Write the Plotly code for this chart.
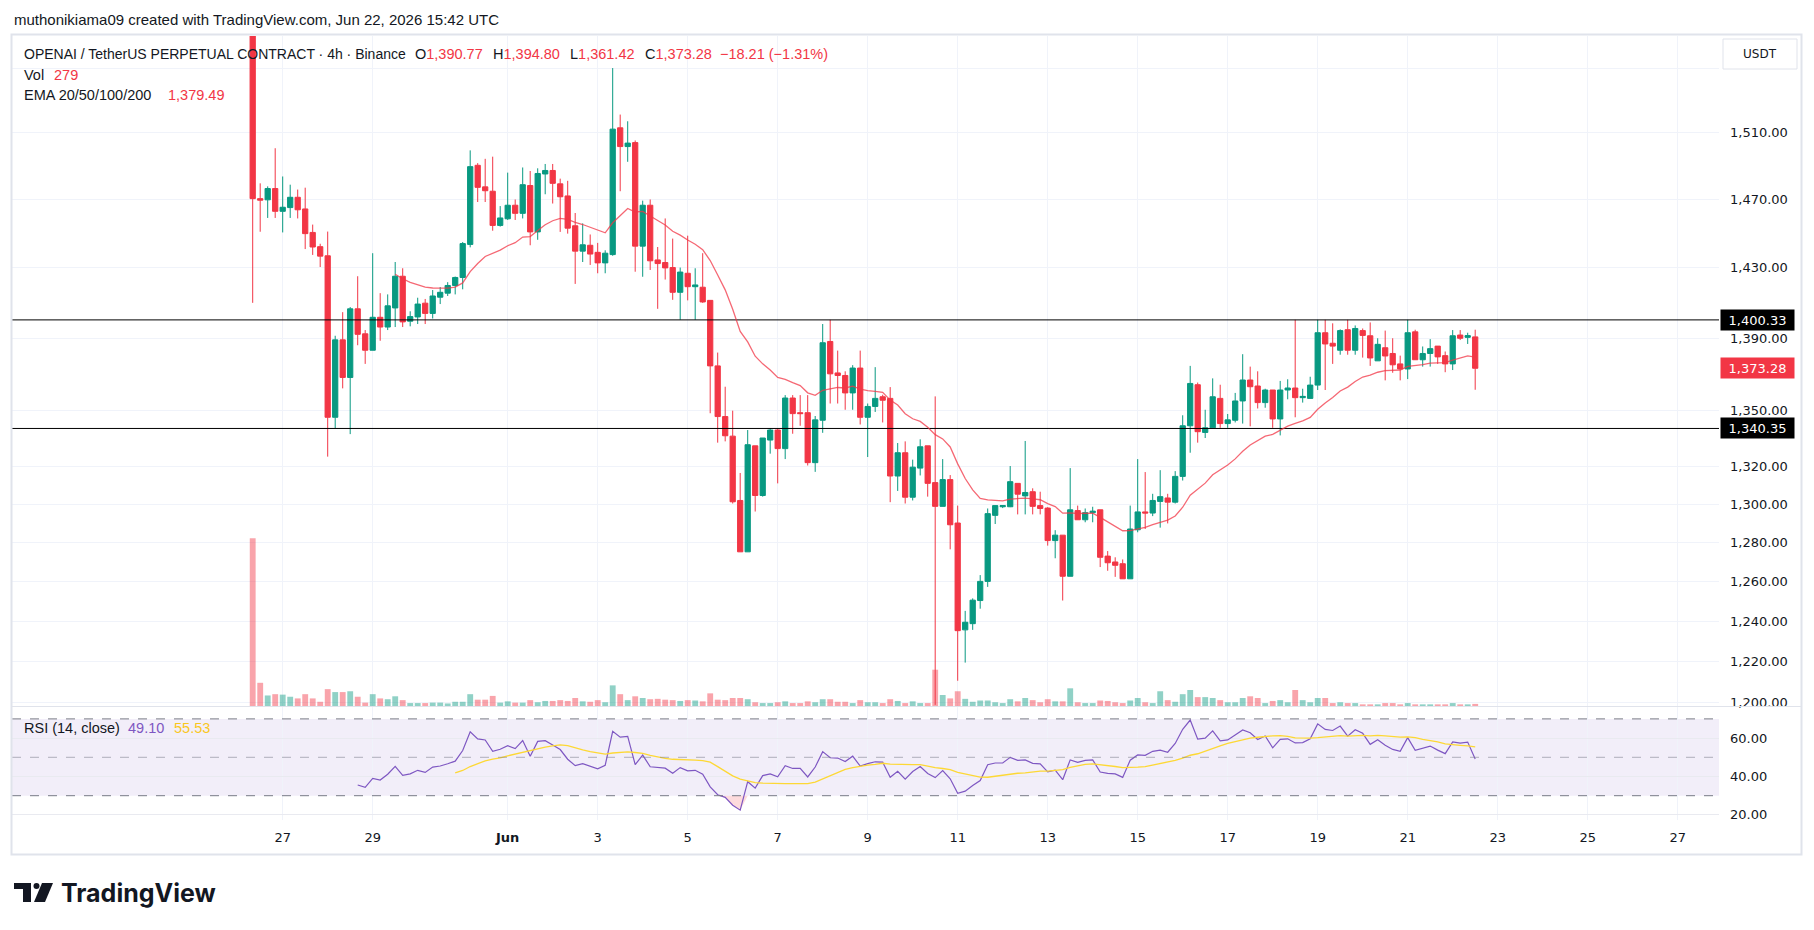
import math
import numpy as np
import pandas as pd
import plotly.graph_objects as go

# ---------------- data (4h candles, OPENAI/USDT perp) ----------------
start_time = "2026-05-26 08:00"
opens = [1580, 1470.5, 1469.8, 1476.5, 1463.0, 1465.2, 1471.3, 1464.4, 1450.6, 1442.3,
         1437.0, 1346.4, 1389.1, 1368.2, 1406.6, 1392.5, 1383.3, 1401.8, 1396.3, 1407.1,
         1425.2, 1399.6, 1402.0, 1409.8, 1404.0, 1413.2, 1415.5, 1419.9, 1424.5, 1443.6,
         1490.4, 1477.5, 1474.9, 1454.7, 1458.6, 1466.6, 1461.8, 1478.3, 1450.9, 1485.2,
         1487.3, 1479.3, 1472.1, 1454.5, 1439.7, 1443.1, 1439.0, 1432.9, 1437.7, 1513.1,
         1501.7, 1504.1, 1442.6, 1466.6, 1434.6, 1433.1, 1430.2, 1416.0, 1426.9, 1419.2,
         1418.9, 1411.4, 1374.6, 1346.8, 1336.2, 1302.0, 1275.3, 1331.0, 1304.6, 1334.1,
         1339.5, 1329.5, 1356.9, 1348.9, 1348.9, 1322.0, 1344.8, 1388.2, 1370.7, 1369.3,
         1359.7, 1373.4, 1346.4, 1352.3, 1357.6, 1356.7, 1314.9, 1327.3, 1303.7, 1319.1,
         1331.0, 1311.4, 1298.9, 1313.0, 1290.2, 1235.8, 1238.9, 1250.5, 1260.2, 1294.2,
         1298.7, 1298.7, 1311.0, 1304.4, 1306.6, 1299.3, 1298.0, 1281.1, 1283.9, 1262.8,
         1296.7, 1291.9, 1295.6, 1297.1, 1273.1, 1270.1, 1269.2, 1261.5, 1286.7, 1296.0,
         1295.4, 1301.5, 1303.3, 1301.1, 1314.7, 1341.8, 1364.2, 1338.2, 1340.7, 1356.7,
         1343.0, 1344.8, 1355.3, 1366.8, 1363.5, 1354.4, 1361.3, 1345.5, 1361.3, 1362.4,
         1357.1, 1356.7, 1364.0, 1393.1, 1387.2, 1383.3, 1394.8, 1383.3, 1394.3, 1391.4,
         1377.4, 1384.7, 1381.5, 1375.7, 1372.9, 1393.6, 1378.0, 1381.5, 1385.6, 1380.3,
         1375.7, 1391.8, 1390.5, 1390.77]
highs = [1600, 1479.6, 1477.8, 1500.7, 1483.7, 1478.8, 1475.9, 1477.0, 1455.2, 1444.0,
         1451.1, 1391.4, 1404.7, 1407.6, 1425.2, 1394.6, 1438.5, 1415.5, 1414.8, 1433.4,
         1429.8, 1405.2, 1412.9, 1412.2, 1417.3, 1419.0, 1421.8, 1425.0, 1445.0, 1499.4,
         1491.7, 1494.3, 1495.6, 1466.1, 1486.0, 1470.0, 1489.1, 1487.0, 1488.6, 1491.2,
         1491.2, 1482.4, 1481.1, 1462.0, 1455.9, 1449.4, 1444.5, 1440.2, 1550.0, 1521.2,
         1517.1, 1505.4, 1469.3, 1470.0, 1442.1, 1458.8, 1447.0, 1430.2, 1448.7, 1429.8,
         1438.5, 1411.4, 1382.0, 1363.1, 1350.0, 1316.5, 1339.5, 1331.0, 1335.2, 1340.6,
         1340.4, 1358.5, 1358.5, 1358.5, 1358.5, 1347.1, 1398.0, 1400.4, 1383.1, 1371.6,
         1375.0, 1383.1, 1353.9, 1373.9, 1358.7, 1362.9, 1332.5, 1333.4, 1323.6, 1334.5,
         1331.0, 1357.8, 1323.9, 1315.4, 1299.3, 1245.3, 1251.6, 1263.4, 1297.8, 1299.3,
         1299.5, 1320.2, 1311.0, 1333.6, 1308.4, 1306.6, 1298.5, 1286.5, 1283.9, 1319.1,
         1299.3, 1297.8, 1298.7, 1297.1, 1275.7, 1272.5, 1271.4, 1299.3, 1323.9, 1317.0,
         1305.5, 1318.0, 1305.5, 1317.5, 1347.5, 1374.6, 1365.4, 1350.5, 1367.7, 1364.2,
         1348.2, 1359.7, 1381.1, 1374.2, 1371.6, 1362.0, 1361.3, 1366.3, 1367.2, 1400.4,
         1362.0, 1368.6, 1400.4, 1400.4, 1398.4, 1395.0, 1400.4, 1397.2, 1395.5, 1398.9,
         1390.0, 1394.3, 1390.0, 1380.3, 1400.4, 1394.8, 1385.4, 1389.5, 1385.6, 1382.6,
         1394.6, 1394.6, 1393.1, 1394.80]
lows = [1410.0, 1451.0, 1459.1, 1459.1, 1450.6, 1459.1, 1458.8, 1440.9, 1437.5, 1430.5,
        1325.2, 1340.4, 1362.2, 1337.3, 1386.1, 1375.7, 1383.3, 1388.6, 1394.6, 1396.3,
        1396.3, 1396.7, 1398.0, 1398.0, 1401.1, 1409.3, 1413.9, 1414.8, 1417.7, 1441.9,
        1468.5, 1468.5, 1451.6, 1454.0, 1457.9, 1457.9, 1458.8, 1443.1, 1446.3, 1473.1,
        1467.6, 1450.9, 1449.9, 1420.8, 1433.4, 1431.7, 1426.9, 1426.9, 1437.0, 1474.9,
        1492.5, 1427.8, 1424.9, 1428.8, 1406.6, 1423.3, 1411.7, 1400.4, 1411.4, 1400.4,
        1410.0, 1348.6, 1332.7, 1333.4, 1300.4, 1275.3, 1275.3, 1296.2, 1304.0, 1326.8,
        1311.0, 1323.9, 1337.5, 1341.8, 1320.5, 1317.1, 1338.0, 1353.9, 1353.9, 1350.5,
        1350.5, 1342.5, 1325.0, 1349.3, 1343.6, 1301.1, 1307.0, 1300.4, 1302.0, 1315.2,
        1304.0, 1199.0, 1298.9, 1276.6, 1210.7, 1219.6, 1235.8, 1246.4, 1257.4, 1289.7,
        1298.0, 1298.5, 1294.7, 1294.7, 1294.7, 1294.7, 1278.5, 1272.0, 1250.5, 1262.8,
        1291.9, 1290.6, 1290.6, 1267.5, 1265.6, 1262.5, 1261.5, 1261.5, 1285.4, 1287.1,
        1293.8, 1287.8, 1290.0, 1300.4, 1312.5, 1327.3, 1332.7, 1335.2, 1340.7, 1340.7,
        1340.7, 1343.6, 1343.0, 1341.5, 1351.2, 1351.6, 1340.7, 1336.6, 1356.2, 1346.4,
        1354.4, 1356.7, 1361.3, 1361.3, 1375.7, 1380.8, 1380.8, 1380.8, 1379.2, 1374.6,
        1377.4, 1366.6, 1370.8, 1366.6, 1367.3, 1378.0, 1374.2, 1374.2, 1375.7, 1371.1,
        1372.3, 1389.0, 1386.8, 1361.42]
closes = [1470.5, 1469.6, 1476.5, 1463.0, 1465.4, 1471.3, 1463.9, 1449.9, 1442.1, 1436.8,
          1346.4, 1389.1, 1368.2, 1406.6, 1392.2, 1383.3, 1401.8, 1396.3, 1408.3, 1425.2,
          1399.2, 1402.2, 1409.3, 1404.0, 1413.9, 1416.0, 1419.9, 1424.5, 1444.1, 1489.6,
          1477.2, 1475.2, 1454.7, 1459.1, 1466.6, 1461.8, 1478.8, 1450.9, 1485.5, 1487.3,
          1479.6, 1471.6, 1453.1, 1439.7, 1443.4, 1438.0, 1432.9, 1438.5, 1512.3, 1501.7,
          1503.8, 1442.6, 1466.6, 1434.1, 1432.5, 1430.0, 1416.0, 1427.6, 1419.2, 1420.2,
          1410.5, 1374.6, 1346.8, 1336.4, 1301.3, 1275.3, 1331.6, 1304.6, 1335.2, 1339.5,
          1329.5, 1356.9, 1348.4, 1348.4, 1322.0, 1345.0, 1387.5, 1370.2, 1369.3, 1359.7,
          1373.4, 1346.4, 1352.3, 1356.7, 1355.7, 1314.9, 1327.3, 1303.7, 1319.6, 1330.5,
          1311.0, 1298.9, 1313.0, 1289.3, 1235.4, 1239.6, 1250.7, 1260.2, 1295.1, 1299.3,
          1299.3, 1311.9, 1305.3, 1306.2, 1298.9, 1297.8, 1281.1, 1283.9, 1262.8, 1297.1,
          1291.9, 1295.6, 1296.4, 1272.5, 1269.7, 1268.4, 1261.5, 1287.1, 1296.0, 1295.4,
          1302.0, 1304.0, 1301.1, 1314.7, 1341.8, 1364.9, 1338.6, 1340.7, 1357.6, 1343.0,
          1345.0, 1355.3, 1366.8, 1363.1, 1354.4, 1361.3, 1345.5, 1361.3, 1362.4, 1357.1,
          1357.8, 1364.0, 1393.1, 1386.8, 1385.6, 1394.3, 1383.3, 1395.5, 1391.6, 1379.0,
          1386.6, 1380.1, 1375.2, 1372.9, 1393.1, 1378.0, 1381.5, 1384.2, 1379.6, 1375.7,
          1391.4, 1390.0, 1391.49, 1373.28]
volumes = [22290, 3080, 1400, 1570, 1510, 1230, 1010, 1570, 1010, 560,
           2240, 1850, 1850, 1960, 1230, 450, 1570, 1010, 900, 1290,
           780, 390, 390, 390, 450, 450, 340, 560, 560, 1570,
           840, 840, 1340, 450, 620, 450, 450, 780, 500, 670,
           670, 780, 670, 1060, 620, 560, 780, 500, 2740, 1570,
           780, 1290, 1060, 900, 950, 840, 780, 670, 780, 730,
           620, 1680, 840, 780, 1060, 1060, 900, 500, 390, 390,
           500, 620, 390, 390, 620, 500, 900, 900, 560, 560,
           390, 780, 500, 500, 390, 900, 670, 390, 620, 390,
           390, 4820, 1460, 1010, 1960, 950, 560, 730, 730, 500,
           390, 900, 620, 1060, 780, 500, 900, 620, 620, 2350,
           500, 390, 390, 730, 670, 500, 390, 730, 1060, 500,
           390, 1960, 780, 560, 1570, 2130, 1180, 1180, 1060, 780,
           500, 500, 1060, 1290, 1060, 390, 670, 780, 500, 2130,
           780, 500, 1060, 1060, 390, 500, 390, 390, 220, 220,
           220, 390, 390, 220, 390, 220, 220, 220, 220, 220,
           390, 220, 220, 279]

support_resistance = [1400.33, 1340.35]
price_ticks = [1200, 1220, 1240, 1260, 1280, 1300, 1320, 1350, 1390, 1430, 1470, 1510, 1550]
rsi_ticks = [20, 40, 60]
date_ticks = ["2026-05-27", "2026-05-29", "2026-06-01", "2026-06-03", "2026-06-05",
              "2026-06-07", "2026-06-09", "2026-06-11", "2026-06-13", "2026-06-15",
              "2026-06-17", "2026-06-19", "2026-06-21", "2026-06-23", "2026-06-25",
              "2026-06-27"]
date_labels = ["27", "29", "<b>Jun</b>", "3", "5", "7", "9", "11", "13", "15", "17",
               "19", "21", "23", "25", "27"]
ema_label_value = "1,379.49"
rsi_label_value = "49.10"
rsima_label_value = "55.53"

times = pd.date_range(start_time, periods=len(closes), freq="4h")

# ---------------- indicators (TradingView definitions) ----------------
c = np.array(closes, dtype=float)
n_ema = 20
alpha = 2.0 / (n_ema + 1)
ema = [None] * len(c)
val = c[:n_ema].mean()
ema[n_ema - 1] = val
for k in range(n_ema, len(c)):
    val = alpha * c[k] + (1 - alpha) * val
    ema[k] = val

L = 14
d = np.diff(c)
g = np.clip(d, 0, None)
lo = np.clip(-d, 0, None)
rsi = [None] * len(c)
ag, al = g[:L].mean(), lo[:L].mean()
rsi[L] = 100 - 100 / (1 + ag / al) if al > 0 else 100
for k in range(L + 1, len(c)):
    ag = (ag * (L - 1) + g[k - 1]) / L
    al = (al * (L - 1) + lo[k - 1]) / L
    rsi[k] = 100 - 100 / (1 + ag / al) if al > 0 else 100
rsima = [None] * len(c)
for k in range(2 * L - 1, len(c)):
    rsima[k] = float(np.mean(rsi[k - L + 1:k + 1]))
rsi_low = [None if v is None else min(v, 30) for v in rsi]
rsi_high = [None if v is None else max(v, 70) for v in rsi]

# ---------------- geometry ----------------
W, H = 1814, 930
PL, PR, PT, PB = 12, 1719, 36, 820
def fx(x):
    return (x - PL) / (PR - PL)
def fy(y):
    return (PB - y) / (PB - PT)

t0 = pd.Timestamp("2026-05-27 00:00")
px_per_day = 45.0
x_left = t0 + pd.Timedelta(days=(PL - 282.7) / px_per_day)
x_right = t0 + pd.Timedelta(days=(PR - 282.7) / px_per_day)

GREEN = "#089981"
RED = "#F23645"
TXT = "#131722"
GRID = "#F0F3FA"
FONT = "DejaVu Sans"
HFONT = "Liberation Sans"

fig = go.Figure()

# volume
vcol = ["rgba(8,153,129,0.45)" if cl >= op else "rgba(242,54,69,0.45)"
        for op, cl in zip(opens, closes)]
fig.add_trace(go.Bar(x=times, y=volumes, marker=dict(color=vcol, line_width=0),
                     width=4 * 3600 * 1000 * 0.78, yaxis="y3", xaxis="x",
                     hoverinfo="skip"))

# support / resistance lines
for lvl in support_resistance:
    fig.add_trace(go.Scatter(x=[x_left, x_right], y=[lvl, lvl], mode="lines",
                             line=dict(color="#000000", width=1), xaxis="x", yaxis="y",
                             hoverinfo="skip"))

# candles
fig.add_trace(go.Candlestick(
    x=times, open=opens, high=highs, low=lows, close=closes, xaxis="x", yaxis="y",
    increasing=dict(line=dict(color=GREEN, width=1), fillcolor=GREEN),
    decreasing=dict(line=dict(color=RED, width=1), fillcolor=RED),
    whiskerwidth=0))

# EMA 20
fig.add_trace(go.Scatter(x=times, y=ema, mode="lines",
                         line=dict(color="rgba(242,54,69,0.75)", width=1.3),
                         xaxis="x", yaxis="y", connectgaps=False, hoverinfo="skip"))

# RSI oversold / overbought fills
fig.add_trace(go.Scatter(x=times, y=[None if v is None else 30 for v in rsi], mode="lines",
                         line=dict(width=0, color="rgba(0,0,0,0)"), xaxis="x", yaxis="y2",
                         hoverinfo="skip"))
fig.add_trace(go.Scatter(x=times, y=rsi_low, mode="lines", line=dict(width=0, color="rgba(0,0,0,0)"),
                         fill="tonexty", fillcolor="rgba(242,54,69,0.18)", xaxis="x", yaxis="y2",
                         hoverinfo="skip"))
fig.add_trace(go.Scatter(x=times, y=[None if v is None else 70 for v in rsi], mode="lines",
                         line=dict(width=0, color="rgba(0,0,0,0)"), xaxis="x", yaxis="y2",
                         hoverinfo="skip"))
fig.add_trace(go.Scatter(x=times, y=rsi_high, mode="lines", line=dict(width=0, color="rgba(0,0,0,0)"),
                         fill="tonexty", fillcolor="rgba(8,153,129,0.18)", xaxis="x", yaxis="y2",
                         hoverinfo="skip"))

# RSI + MA
fig.add_trace(go.Scatter(x=times, y=rsi, mode="lines", line=dict(color="#7E57C2", width=1.2),
                         xaxis="x", yaxis="y2", hoverinfo="skip"))
fig.add_trace(go.Scatter(x=times, y=rsima, mode="lines", line=dict(color="#FDD835", width=1.3),
                         xaxis="x", yaxis="y2", hoverinfo="skip"))

price_lo = 10 ** (math.log10(1510) - (706 - 132.9) / (2480 * math.log(10)))
price_hi = 10 ** (math.log10(1510) + (132.9 - PT) / (2480 * math.log(10)))
vol_max = max(volumes) * (706 - PT) / (706 - 538.2)

shapes = []
shapes.append(dict(type="rect", xref="paper", yref="y2", x0=0, x1=1, y0=30, y1=70,
                   fillcolor="rgba(126,87,194,0.1)", line_width=0, layer="below"))
for lv, op in [(70, 1), (50, 0.55), (30, 1)]:
    shapes.append(dict(type="line", xref="paper", yref="y2", x0=0, x1=1, y0=lv, y1=lv,
                       line=dict(color="rgba(120,123,134,%s)" % op, width=1, dash="dash")))
shapes.append(dict(type="line", xref="paper", yref="paper", x0=fx(12), x1=fx(1801),
                   y0=fy(706.5), y1=fy(706.5), line=dict(color="#E0E3EB", width=1)))
shapes.append(dict(type="rect", xref="paper", yref="paper", x0=fx(11.5), x1=fx(1801.5),
                   y0=fy(854.5), y1=fy(34.5), line=dict(color="#E0E3EB", width=2)))
shapes.append(dict(type="rect", xref="paper", yref="paper", x0=fx(1723), x1=fx(1797),
                   y0=fy(69), y1=fy(39), line=dict(color="#E0E3EB", width=1),
                   fillcolor="white"))
# TradingView logo mark
shapes.append(dict(type="rect", xref="paper", yref="paper", x0=fx(14), x1=fx(31),
                   y0=fy(889), y1=fy(883), line_width=0, fillcolor=TXT))
shapes.append(dict(type="rect", xref="paper", yref="paper", x0=fx(23), x1=fx(31),
                   y0=fy(902), y1=fy(883), line_width=0, fillcolor=TXT))
shapes.append(dict(type="circle", xref="paper", yref="paper", x0=fx(33.5), x1=fx(39.5),
                   y0=fy(889), y1=fy(883), line_width=0, fillcolor=TXT))
shapes.append(dict(type="path", xref="paper", yref="paper",
                   path="M %f,%f L %f,%f L %f,%f L %f,%f Z" % (
                       fx(42), fy(883), fx(53), fy(883), fx(45), fy(902), fx(34), fy(902)),
                   line_width=0, fillcolor=TXT))

def span(t, col):
    return "<span style='color:%s'>%s</span>" % (col, t)

ann = []
def text(x, y, t, size=14.5, col=TXT, font=HFONT, anchor="left"):
    ann.append(dict(x=fx(x), y=fy(y), xref="paper", yref="paper", text=t, showarrow=False,
                    xanchor=anchor, yanchor="middle", font=dict(size=size, color=col, family=font)))

chg = closes[-1] - closes[-2]
text(12, 20, "muthonikiama09 created with TradingView.com, Jun 22, 2026 15:42 UTC", size=15)
text(22, 54, "OPENAI / TetherUS PERPETUAL CONTRACT · 4h · Binance", size=14)
text(413, 54, "O" + span(f"{opens[-1]:,.2f}", RED))
text(491, 54, "H" + span(f"{highs[-1]:,.2f}", RED))
text(568, 54, "L" + span(f"{lows[-1]:,.2f}", RED))
text(643, 54, "C" + span(f"{closes[-1]:,.2f}", RED))
text(718, 54, span("−%.2f (−%.2f%%)" % (abs(chg), abs(chg) / closes[-2] * 100), RED))
text(22, 74.5, "Vol")
text(52, 74.5, span(f"{volumes[-1]:,}", RED))
text(22, 95.5, "EMA 20/50/100/200")
text(166, 95.5, span(ema_label_value, RED))
text(22, 727.5, "RSI (14, close)")
text(126, 727.5, span(rsi_label_value, "#7E57C2"))
text(172, 727.5, span(rsima_label_value, "#F9C71E"))
text(1760, 54, "USDT", size=12, font=FONT, anchor="center")
text(59, 893, "<b>TradingView</b>", size=25, font="Inter")

for lvl, bg in [(support_resistance[0], "#000000"), (closes[-1], RED), (support_resistance[1], "#000000")]:
    ann.append(dict(x=fx(1720), y=math.log10(lvl), xref="paper", yref="y",
                    text=f"{lvl:,.2f}", showarrow=False, xanchor="left", yanchor="middle",
                    bgcolor=bg, borderpad=3, width=67, height=14,
                    font=dict(size=13, color="white", family=FONT)))

fig.update_layout(
    width=W, height=H, margin=dict(l=PL, r=W - PR, t=PT, b=H - PB),
    paper_bgcolor="white", plot_bgcolor="white", showlegend=False,
    boxgap=0.3, boxgroupgap=0,
    xaxis=dict(type="date", range=[x_left, x_right], anchor="y2",
               tickvals=date_ticks, ticktext=date_labels, showgrid=True, gridcolor=GRID,
               gridwidth=1, ticks="", ticklabelstandoff=8, zeroline=False,
               tickfont=dict(size=13, color=TXT, family=FONT),
               rangeslider=dict(visible=False), showline=False),
    yaxis=dict(type="log", domain=[fy(706), 1], range=[math.log10(price_lo), math.log10(price_hi)],
               side="right", tickvals=price_ticks,
               ticktext=["" if v == 1550 else f"{v:,.2f}" for v in price_ticks],
               showgrid=True, gridcolor=GRID, ticks="", ticklabelstandoff=10,
               tickfont=dict(size=13, color=TXT, family=FONT), zeroline=False, showline=False),
    yaxis3=dict(overlaying="y", range=[0, vol_max], visible=False, showgrid=False),
    yaxis2=dict(domain=[0, fy(707)], range=[50 - (PB - 757.3) / 1.92, 50 + (757.3 - 707) / 1.92],
                side="right", tickvals=rsi_ticks, ticktext=[f"{v:.2f}" for v in rsi_ticks],
                showgrid=True, gridcolor="#E9EAF0", ticks="", ticklabelstandoff=10,
                tickfont=dict(size=13, color=TXT, family=FONT), zeroline=False),
    shapes=shapes, annotations=ann,
)

fig.write_html("out.html")
